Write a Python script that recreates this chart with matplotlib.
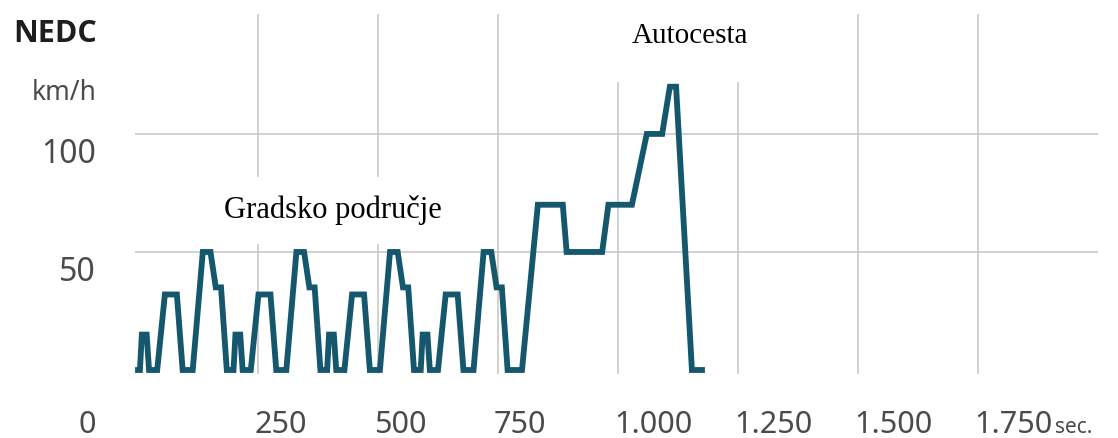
import matplotlib.pyplot as plt
import matplotlib.transforms as mtransforms
from matplotlib.patches import Rectangle

# one ECE-15 city cycle (seconds inside the cycle, km/h), repeated 4x
ece_t = [0, 4, 8, 18, 23, 40, 56, 81, 93, 114, 135, 151, 162, 173, 185]
ece_v = [0, 0, 15, 15, 0, 0, 32, 32, 0, 0, 50, 50, 35, 35, 0]
ece_starts = [0, 195, 390, 585]
# extra-urban part
eudc_t = [780, 800, 833, 885, 893, 967, 980, 1029, 1060, 1092, 1108, 1121, 1154, 1175]
eudc_v = [0, 0, 70, 70, 50, 50, 70, 70, 100, 100, 120, 120, 0, 0]

xticks = [250, 500, 750, 1000, 1250, 1500, 1750]
xlabels = ["250", "500", "750", "1.000", "1.250", "1.500", "1.750"]
yticks = [50, 100]
ylabels = ["50", "100"]

t = []
v = []
for s in ece_starts:
    t += [s + x for x in ece_t]
    v += ece_v
t += eudc_t
v += eudc_v

W, H = 1118, 439
fig = plt.figure(figsize=(W / 100, H / 100), dpi=100)
ax = fig.add_axes([135 / W, 64 / H, 963 / W, 360 / H])
sans = "Noto Sans"
grey = "#4a4a4a"

ax.plot(t, v, color="#15586d", lw=4.2, solid_joinstyle="miter", zorder=2)
ax.set_xlim(-6.25, 2000)
ax.set_ylim(-1.69, 150.8)
ax.set_axisbelow(True)
ax.grid(True, color="#c9c9c9", lw=1.2)
for sp in ax.spines.values():
    sp.set_visible(False)

# white boxes behind the captions hide the grid there
ax.add_patch(Rectangle((129, 53.4), 611, 28.4, fc="white", ec="none", zorder=1))
ax.add_patch(Rectangle((962, 122), 313, 40, fc="white", ec="none", zorder=1))

ax.set_xticks(xticks, xlabels)
ax.set_yticks(yticks, ylabels)
ax.tick_params(length=0, labelsize=22, labelcolor=grey)
ax.tick_params(axis="x", pad=25)
ax.tick_params(axis="y", pad=28)
dx = mtransforms.ScaledTranslation(-4 / 100, 0, fig.dpi_scale_trans)
for lab in ax.get_xticklabels():
    lab.set_ha("left")
    lab.set_fontfamily(sans)
    lab.set_transform(lab.get_transform() + dx)
dy = mtransforms.ScaledTranslation(0, -16 / 100, fig.dpi_scale_trans)
for lab in ax.get_yticklabels():
    lab.set_fontfamily(sans)
    lab.set_fontsize(23)
    lab.set_transform(lab.get_transform() + dy)

ax.text(407, 64.8, "Gradsko područje", family="Liberation Serif", fontsize=22,
        ha="center", va="baseline", zorder=3)
ax.text(1150, 139, "Autocesta", family="Liberation Serif", fontsize=21,
        ha="center", va="baseline", zorder=3, clip_on=False)

fig.text(97 / W, 1 - 42 / H, "NEDC", family="Open Sans", weight="bold", fontsize=22,
         color="#1e1e1e", ha="right", va="baseline")
fig.text(97 / W, 1 - 100 / H, "km/h", family=sans, fontsize=19,
         color=grey, ha="right", va="baseline")
fig.text(96 / W, 1 - 433 / H, "0", family=sans, fontsize=22,
         color=grey, ha="right", va="baseline")
fig.text(1055 / W, 1 - 433 / H, "sec.", family=sans, fontsize=15,
         color=grey, ha="left", va="baseline")

fig.savefig("out.png", dpi=100)
